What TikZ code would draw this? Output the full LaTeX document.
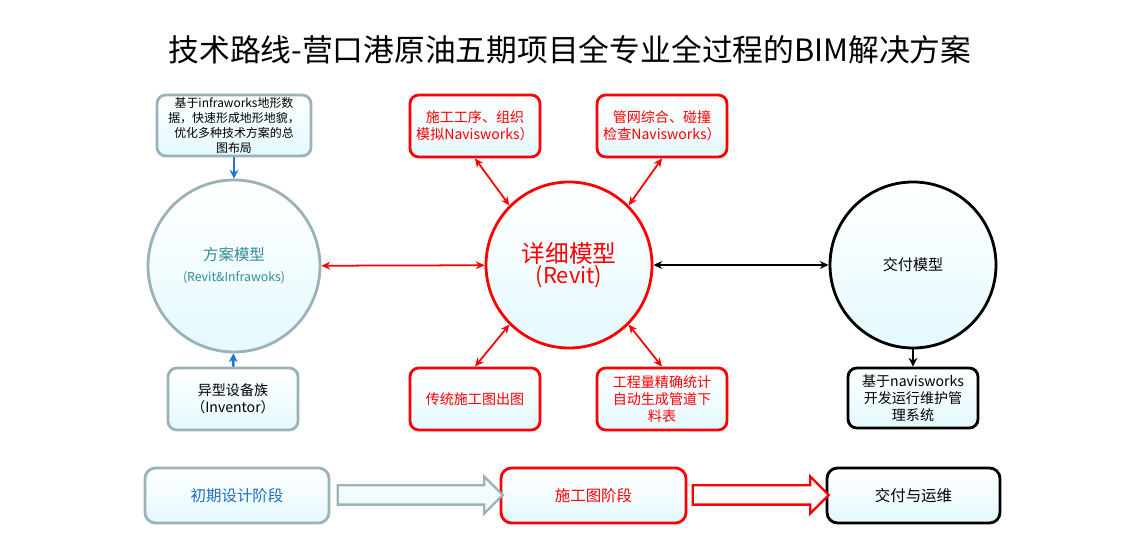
\documentclass[tikz,border=0pt]{standalone}
\usepackage{fontspec}
\setmainfont{Noto Sans CJK SC}
\usepackage{tikz}
\usetikzlibrary{arrows.meta,shapes.arrows}

\definecolor{grayline}{RGB}{155,178,182}
\definecolor{paleblue}{RGB}{228,249,255}
\definecolor{tealtext}{RGB}{50,140,150}
\definecolor{bluetext}{RGB}{30,110,190}
\definecolor{bluearrow}{RGB}{30,120,205}

\tikzset{
	box/.style={draw, rounded corners=5pt, line width=1.6pt, top color=white, bottom color=paleblue,
		align=center, inner sep=1pt, minimum width=2.6cm, minimum height=1.24cm},
	model/.style={draw, circle, line width=1.6pt, top color=white, bottom color=paleblue,
		align=center, inner sep=0pt},
	stage/.style={box, rounded corners=6pt, minimum height=1.1cm},
	hollow/.style={single arrow, draw, line width=1.3pt, inner xsep=0pt, inner ysep=0.17cm, minimum width=0.7cm,
		single arrow head extend=0.18cm, single arrow tip angle=90, fill=white, shape border rotate=0},
	redarr/.style={draw=red, line width=1pt, {Stealth[length=5pt,width=4.5pt]}-{Stealth[length=5pt,width=4.5pt]}},
	bluearr/.style={draw=bluearrow, line width=1.6pt, -{Stealth[length=5pt,width=5pt]}},
	boxfont/.style={font=\fontsize{8}{9.7}\selectfont}
}

\begin{document}
\begin{tikzpicture}
				\useasboundingbox (0,0) rectangle (22.52,11.12);
				\node (title) at (11.4, 10.12) {\fontsize{17.5}{20}\selectfont 技术路线-营口港原油五期项目全专业全过程的BIM解决方案};

				\node[box, draw=grayline, minimum width=3.08cm, minimum height=1.22cm, font=\fontsize{6.8}{8.5}\selectfont] (terrain) at (4.68, 8.61) {基于infraworks地形数\\据，快速形成地形地貌，\\优化多种技术方案的总\\图布局};
				\node[model, draw=grayline, minimum size=3.44cm, text=tealtext] (scheme) at (4.68, 5.8) {{\fontsize{8.8}{12}\selectfont 方案模型}\\{\fontsize{7}{9}\selectfont (Revit\&Infrawoks)}};
				\node[box, draw=grayline, boxfont] (family) at (4.66, 3.14) {异型设备族\\（Inventor）};

				\node[model, draw=red, minimum size=3.32cm, text=red] (detail) at (11.38, 5.82) {{\fontsize{13.5}{16}\selectfont 详细模型}\\{\fontsize{12.5}{16}\selectfont (Revit)}};
				\node[box, draw=red, text=red, boxfont] (simulate) at (9.5, 8.6) {施工工序、组织\\模拟Navisworks）};
				\node[box, draw=red, text=red, boxfont] (clash) at (13.24, 8.6) {管网综合、碰撞\\检查Navisworks）};
				\node[box, draw=red, text=red, boxfont] (drawing) at (9.5, 3.14) {传统施工图出图};
				\node[box, draw=red, text=red, boxfont] (quantity) at (13.24, 3.14) {工程量精确统计\\自动生成管道下\\料表};

				\node[model, draw=black, minimum size=3.32cm] (deliver) at (18.26, 5.82) {\fontsize{8.6}{11}\selectfont 交付模型};
				\node[box, draw=black, minimum height=1.2cm, boxfont] (operate) at (18.26, 3.16) {基于navisworks\\开发运行维护管\\理系统};

				\node[stage, draw=grayline, minimum width=3.68cm, text=bluetext, font=\fontsize{8.8}{10}\selectfont] (early) at (4.74, 1.21) {初期设计阶段};
				\node[stage, draw=red, minimum width=3.7cm, text=red, font=\fontsize{8.8}{10}\selectfont] (construct) at (11.87, 1.21) {施工图阶段};
				\node[stage, draw=black, minimum width=3.46cm, font=\fontsize{8.8}{10}\selectfont] (handover) at (18.27, 1.21) {交付与运维};
				\node[hollow, draw=grayline, fill=paleblue!50, minimum height=3.3cm] (grow1) at (8.31, 1.22) {};
				\node[hollow, draw=red, minimum height=2.72cm] (grow2) at (15.12, 1.22) {};

				\draw[bluearr] (terrain) to (scheme);
				\draw[bluearr] (family) to (scheme);
				\draw[redarr] (scheme) to (detail);
				\draw[draw=black, line width=1.2pt, {Stealth[length=5pt,width=4.5pt]}-{Stealth[length=5pt,width=4.5pt]}] (detail) to (deliver);
				\draw[redarr] (simulate.south) to (detail.135);
				\draw[redarr] (clash.south) to (detail.45);
				\draw[redarr] (drawing.north) to (detail.225);
				\draw[redarr] (quantity.north) to (detail.315);
				\draw[draw=black, line width=1.2pt, -{Stealth[length=5pt,width=5pt]}] (deliver) to (operate);
			\end{tikzpicture}
\end{document}
